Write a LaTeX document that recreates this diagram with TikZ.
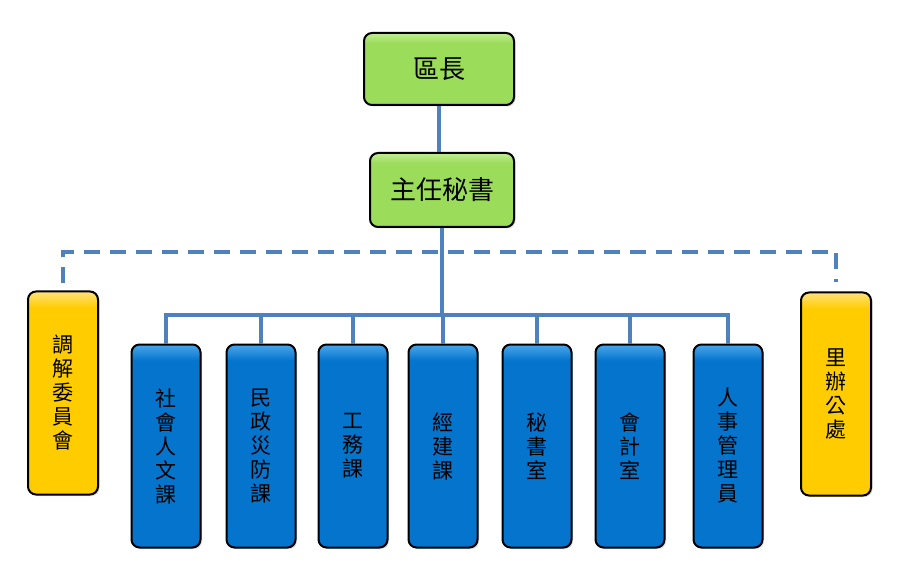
\documentclass[tikz,border=0pt]{standalone}
\usepackage{fontspec}
\newfontfamily\cjk{Noto Sans CJK TC}
\usepackage{tikz}
\usetikzlibrary{shadows}
\definecolor{grn}{HTML}{9BDC5A}
\definecolor{grnT}{HTML}{C2EE92}
\definecolor{blu}{HTML}{0474CC}
\definecolor{bluT}{HTML}{4AA6EC}
\definecolor{ylw}{HTML}{FFCC00}
\definecolor{ylwT}{HTML}{FFE27A}
\definecolor{lnc}{HTML}{4F81BD}
\pgfdeclareverticalshading{gsh}{100bp}{color(0bp)=(grn); color(25bp)=(grn); color(68bp)=(grn); color(75bp)=(grnT); color(100bp)=(grnT)}
\pgfdeclareverticalshading{bsh}{100bp}{color(0bp)=(blu); color(25bp)=(blu); color(71bp)=(blu); color(75bp)=(bluT); color(100bp)=(bluT)}
\pgfdeclareverticalshading{ysh}{100bp}{color(0bp)=(ylw); color(25bp)=(ylw); color(71bp)=(ylw); color(75bp)=(ylwT); color(100bp)=(ylwT)}
\tikzset{bx/.style={draw=black, line width=2pt, rounded corners=8pt, inner sep=0pt, align=center,
  drop shadow={opacity=0.3, shadow xshift=1.5pt, shadow yshift=-1.5pt}}}
\tikzset{gb/.style={bx, shading=gsh, font=\cjk\fontsize{26}{26}\selectfont}}
\tikzset{ub/.style={bx, shading=bsh, minimum width=69pt, minimum height=203pt, font=\cjk\fontsize{21}{24}\selectfont}}
\tikzset{yb/.style={bx, shading=ysh, minimum width=70pt, minimum height=203pt, font=\cjk\fontsize{21}{24}\selectfont}}
\tikzset{ln/.style={draw=lnc, line width=3.5pt}}
\tikzset{dl/.style={ln, dash pattern=on 16pt off 10pt}}

\begin{document}
\begin{tikzpicture}[x=1pt,y=-1pt]
            \useasboundingbox (0,0) rectangle (900,580);
            \node[gb, minimum width=150pt, minimum height=72pt] (A) at (439,69) {區長};
            \node[gb, minimum width=144pt, minimum height=74pt] (B) at (442,190) {主任秘書};
            \node[yb] (J) at (63,393) {調\\解\\委\\員\\會};
            \node[yb] (K) at (836,394) {里\\辦\\公\\處};
            \node[ub] (C) at (166,446) {社\\會\\人\\文\\課};
            \node[ub] (D) at (261,446) {民\\政\\災\\防\\課};
            \node[ub] (E) at (353,446) {工\\務\\課};
            \node[ub] (F) at (443,446) {經\\建\\課};
            \node[ub] (G) at (537,446) {秘\\書\\室};
            \node[ub] (H) at (630,446) {會\\計\\室};
            \node[ub] (I) at (728,446) {人\\事\\管\\理\\員};
            \coordinate (bus) at (443,315);
            \coordinate (dash) at (443,252);
            \draw[ln] (A.south) -- (A.south |- B.north);
            \draw[ln] (B.south) -- (B.south |- bus);
            \draw[ln] (C.north) |- (bus) -| (I.north);
            \foreach \n in {D,E,F,G,H}
              \draw[ln] (\n.north) -- (\n.north |- bus);
            \draw[dl] ([yshift=7pt]J.north) |- (dash) -| ([yshift=9pt]K.north);
          \end{tikzpicture}
\end{document}
